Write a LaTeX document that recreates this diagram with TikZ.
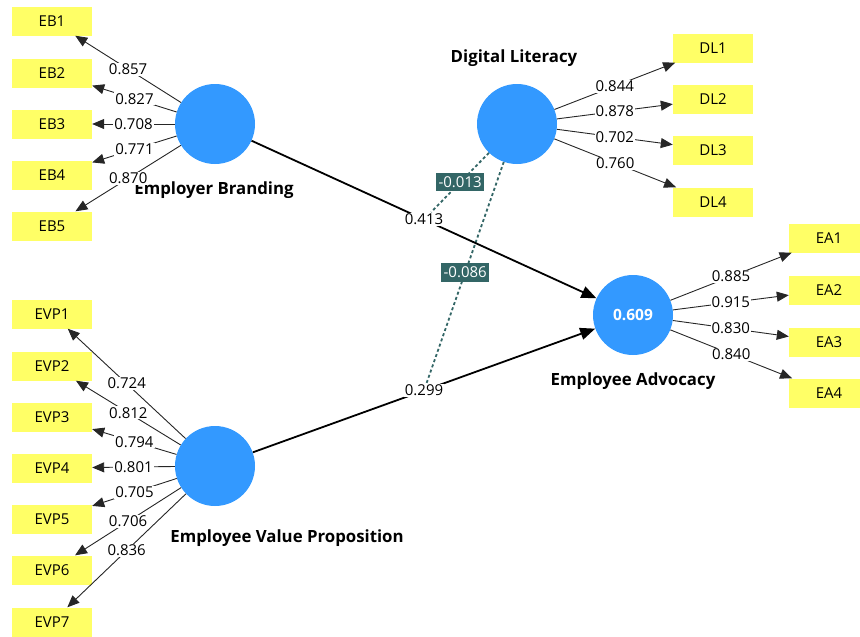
\documentclass[tikz,border=0pt]{standalone}
\usepackage{fontspec}
\setmainfont{Open Sans}
\usetikzlibrary{arrows.meta,backgrounds}

\definecolor{lvblue}{RGB}{51,153,255}
\definecolor{indyellow}{RGB}{255,255,102}
\definecolor{modteal}{RGB}{51,102,102}

\tikzset{
  latent/.style={circle,fill=lvblue,minimum size=80pt,inner sep=0pt,text=white,font=\fontsize{15.5}{18}\bfseries},
  indicator/.style={rectangle,fill=indyellow,minimum width=80pt,minimum height=29pt,inner sep=0pt},
  lvname/.style={font=\fontsize{16.8}{20}\bfseries},
  loading/.style={draw=black!85,line width=0.9pt,-{Triangle[length=12pt,width=10pt]}},
  coef/.style={fill=white,inner sep=1pt},
  structural/.style={line width=1.8pt,-{Triangle[length=15pt,width=12pt]}},
  moderation/.style={modteal,line width=1.8pt,dash pattern=on 3pt off 2.5pt},
  modlabel/.style={fill=modteal,text=white,inner xsep=2.5pt,inner ysep=3.5pt}
}

\begin{document}
\begin{tikzpicture}[x=1pt,y=-1pt,font=\fontsize{15}{18}\selectfont]
\path[use as bounding box] (0,0) rectangle (860,637);
\clip (0,0) rectangle (860,637);

% constructs
\node[latent] (EB) at (215,124) {};
\node[latent] (EVP) at (215,466) {};
\node[latent] (DL) at (517,124) {};
\node[latent] (EA) at (633,315) {0.609};
\node[lvname] (EBname) at (214,190) {Employer Branding};
\node[lvname] (EVPname) at (287,538) {Employee Value Proposition};
\node[lvname] (DLname) at (514,58) {Digital Literacy};
\node[lvname] (EAname) at (633,381) {Employee Advocacy};

% indicators
\node[indicator] (EB1) at (52,21) {EB1};
\node[indicator] (EB2) at (52,73) {EB2};
\node[indicator] (EB3) at (52,124) {EB3};
\node[indicator] (EB4) at (52,175) {EB4};
\node[indicator] (EB5) at (52,226) {EB5};
\node[indicator] (EVP1) at (52,314) {EVP1};
\node[indicator] (EVP2) at (52,366) {EVP2};
\node[indicator] (EVP3) at (52,417) {EVP3};
\node[indicator] (EVP4) at (52,468) {EVP4};
\node[indicator] (EVP5) at (52,519) {EVP5};
\node[indicator] (EVP6) at (52,570) {EVP6};
\node[indicator] (EVP7) at (52,622) {EVP7};
\node[indicator] (DL1) at (713,48) {DL1};
\node[indicator] (DL2) at (713,99) {DL2};
\node[indicator] (DL3) at (713,150) {DL3};
\node[indicator] (DL4) at (713,202) {DL4};
\node[indicator] (EA1) at (829,238) {EA1};
\node[indicator] (EA2) at (829,290) {EA2};
\node[indicator] (EA3) at (829,342) {EA3};
\node[indicator] (EA4) at (829,393) {EA4};

% outer loadings
\draw[loading] (EB) -- node[coef] {0.857} (EB1);
\draw[loading] (EB) -- node[coef] {0.827} (EB2);
\draw[loading] (EB) -- node[coef] {0.708} (EB3);
\draw[loading] (EB) -- node[coef] {0.771} (EB4);
\draw[loading] (EB) -- node[coef] {0.870} (EB5);
\draw[loading] (EVP) -- node[coef] {0.724} (EVP1);
\draw[loading] (EVP) -- node[coef] {0.812} (EVP2);
\draw[loading] (EVP) -- node[coef] {0.794} (EVP3);
\draw[loading] (EVP) -- node[coef] {0.801} (EVP4);
\draw[loading] (EVP) -- node[coef] {0.705} (EVP5);
\draw[loading] (EVP) -- node[coef] {0.706} (EVP6);
\draw[loading] (EVP) -- node[coef] {0.836} (EVP7);
\draw[loading] (DL) -- node[coef] {0.844} (DL1);
\draw[loading] (DL) -- node[coef] {0.878} (DL2);
\draw[loading] (DL) -- node[coef] {0.702} (DL3);
\draw[loading] (DL) -- node[coef] {0.760} (DL4);
\draw[loading] (EA) -- node[coef] {0.885} (EA1);
\draw[loading] (EA) -- node[coef] {0.915} (EA2);
\draw[loading] (EA) -- node[coef] {0.830} (EA3);
\draw[loading] (EA) -- node[coef] {0.840} (EA4);

% inner model
\draw[structural] (EB) -- node[coef] (c413) {0.413} (EA);
\draw[structural] (EVP) -- node[coef] (c299) {0.299} (EA);

% moderating effects
\begin{scope}[on background layer]
\draw[moderation] (DL) -- node[modlabel] {-0.013} (c413);
\draw[moderation] (DL) -- node[modlabel] {-0.086} (c299);
\end{scope}
\end{tikzpicture}
\end{document}
